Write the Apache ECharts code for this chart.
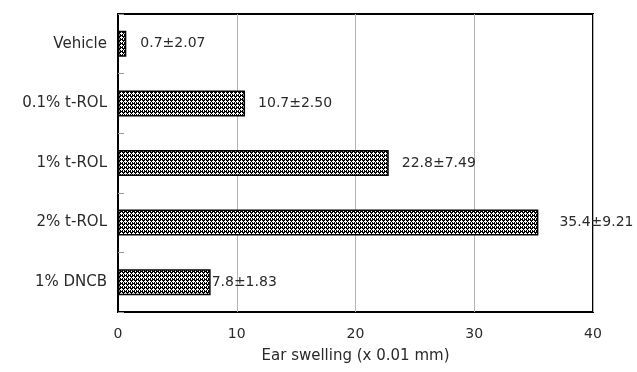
<!DOCTYPE html>
<html>
<head>
<meta charset="utf-8">
<script src="https://cdn.jsdelivr.net/npm/echarts@6/dist/echarts.min.js"></script>
<style>html,body{margin:0;padding:0;background:#fff;}#c{width:637px;height:372px;}</style>
</head>
<body>
<div id="c"></div>
<script>
var categories = ['Vehicle', '0.1% t-ROL', '1% t-ROL', '2% t-ROL', '1% DNCB'];
var means = [0.7, 10.7, 22.8, 35.4, 7.8];
var sems = ['2.07', '2.50', '7.49', '9.21', '1.83'];
var xTicks = [0, 10, 20, 30, 40];

var labelGaps = [14, 13, 13, 21, 1];

function makePattern() {
  var cv = document.createElement('canvas');
  cv.width = 4; cv.height = 4;
  var ctx = cv.getContext('2d');
  ctx.fillStyle = '#000';
  ctx.fillRect(0, 0, 4, 4);
  ctx.fillStyle = '#fff';
  [[1,0],[0,1],[1,1],[2,1],[1,2],[3,3],[3,2]].forEach(function (p) { ctx.fillRect(p[0], p[1], 1, 1); });
  return cv;
}
var pattern = { image: makePattern(), repeat: 'repeat' };

var chart = echarts.init(document.getElementById('c'));
var font = 'DejaVu Sans';
chart.setOption({
  animation: false,
  backgroundColor: '#fff',
  grid: { left: 118, right: 44, top: 14, bottom: 60, show: true, borderColor: '#000', borderWidth: 2, backgroundColor: 'transparent' },
  xAxis: {
    type: 'value', min: xTicks[0], max: xTicks[xTicks.length - 1], interval: 10,
    axisLine: { show: false }, axisTick: { show: false },
    axisLabel: { color: '#2a2a2a', fontSize: 14, fontFamily: font, margin: 15 },
    splitLine: { show: true, lineStyle: { color: '#b4b4b4', width: 1 } },
    name: 'Ear swelling (x 0.01 mm)', nameLocation: 'middle', nameGap: 37,
    nameTextStyle: { color: '#2a2a2a', fontSize: 15, fontFamily: font }
  },
  yAxis: {
    type: 'category', data: categories, inverse: true,
    axisLine: { show: true, lineStyle: { color: '#000', width: 2 } },
    axisTick: { show: true, inside: true, length: 6, lineStyle: { color: '#999' } },
    axisLabel: { color: '#2a2a2a', fontSize: 15, fontFamily: font, margin: 11 },
    splitLine: { show: false }
  },
  series: [{
    type: 'bar',
    barWidth: 26,
    data: means.map(function (v, i) {
      return {
        value: v,
        label: { distance: labelGaps[i] }
      };
    }),
    itemStyle: { color: pattern, borderColor: '#000', borderWidth: 1.5 },
    label: {
      show: true, position: 'right', color: '#2a2a2a', fontSize: 14, fontFamily: font,
      formatter: function (p) { return means[p.dataIndex].toFixed(1) + '±' + sems[p.dataIndex]; }
    }
  }]
});
</script>
</body>
</html>
